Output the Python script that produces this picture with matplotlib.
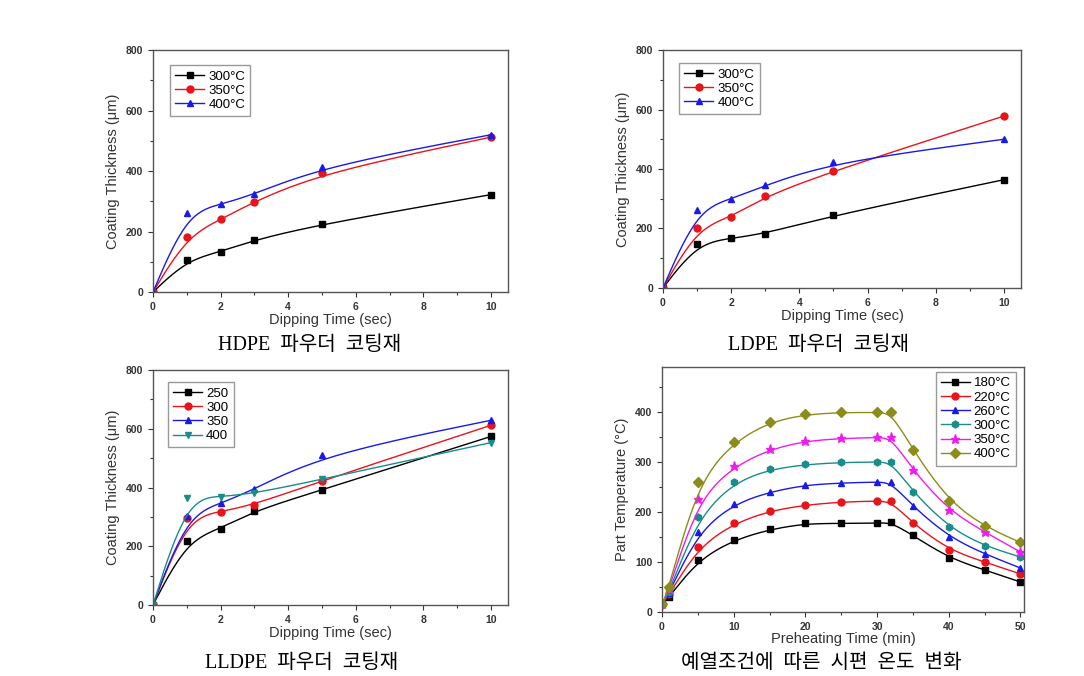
import matplotlib.pyplot as plt
import numpy as np
from matplotlib.ticker import MultipleLocator

plt.rcParams['font.family'] = ['Liberation Sans', 'DejaVu Sans']

# dipping time (sec)
dip_x = [0, 1, 2, 3, 5, 10]

hdpe_labels = ["300°C", "350°C", "400°C"]
hdpe_300 = [0, 105, 133, 172, 225, 322]
hdpe_350 = [0, 183, 240, 299, 394, 512]
hdpe_400 = [0, 260, 290, 323, 414, 520]

ldpe_labels = ["300°C", "350°C", "400°C"]
ldpe_300 = [0, 149, 167, 183, 244, 364]
ldpe_350 = [0, 201, 238, 308, 394, 578]
ldpe_400 = [0, 263, 299, 345, 423, 500]

lldpe_labels = ["250", "300", "350", "400"]
lldpe_250 = [0, 219, 260, 321, 392, 574]
lldpe_300 = [0, 295, 318, 342, 423, 612]
lldpe_350 = [0, 304, 346, 394, 511, 629]
lldpe_400 = [0, 363, 369, 380, 428, 553]

# preheating time (min)
pre_x = [0, 1, 5, 10, 15, 20, 25, 30, 32, 35, 40, 45, 50]
pre_labels = ["180°C", "220°C", "260°C", "300°C", "350°C", "400°C"]
pre_180 = [15, 30, 104, 144, 165, 177, 177, 178, 179, 153, 108, 84, 60]
pre_220 = [15, 35, 129, 177, 202, 214, 220, 222, 221, 177, 124, 100, 76]
pre_260 = [15, 38, 160, 216, 240, 254, 258, 260, 259, 211, 150, 116, 88]
pre_300 = [15, 40, 189, 259, 285, 295, 299, 300, 300, 240, 169, 132, 110]
pre_350 = [15, 45, 225, 291, 325, 342, 347, 349, 349, 283, 203, 160, 120]
pre_400 = [15, 50, 260, 340, 380, 395, 399, 399, 399, 324, 221, 171, 139]

captions = ["HDPE  파우더  코팅재", "LDPE  파우더  코팅재",
            "LLDPE  파우더  코팅재", "예열조건에  따른  시편  온도  변화"]


def bspline(x, y, n=40):
    # clamped uniform cubic B-spline, like Origin's B-spline connect
    P = np.column_stack([x, y]).astype(float)
    P = np.vstack([P[0], P[0], P, P[-1], P[-1]])
    t = np.linspace(0, 1, n)
    b0 = (1 - t) ** 3 / 6
    b1 = (3 * t**3 - 6 * t**2 + 4) / 6
    b2 = (-3 * t**3 + 3 * t**2 + 3 * t + 1) / 6
    b3 = t**3 / 6
    pts = []
    for i in range(len(P) - 3):
        seg = (np.outer(b0, P[i]) + np.outer(b1, P[i + 1])
               + np.outer(b2, P[i + 2]) + np.outer(b3, P[i + 3]))
        pts.append(seg)
    pts = np.vstack(pts)
    return pts[:, 0], pts[:, 1]


def plot_series(ax, x, ys, labels, colors, markers):
    for y, lab, c, m in zip(ys, labels, colors, markers):
        sx, sy = bspline(x, y)
        ax.plot(sx, sy, color=c, lw=1.0)
        ms = 6.5 if m == "*" else 5
        ax.plot(x, y, linestyle="none", marker=m, color=c, ms=ms)
        # legend proxy
        ax.plot([], [], color=c, lw=1.0, marker=m, ms=ms, label=lab)


def style_axes(ax, xmaj, xmin, ymaj, ymin):
    for s in ax.spines.values():
        s.set_color("#555555")
        s.set_linewidth(1.0)
    ax.xaxis.set_major_locator(MultipleLocator(xmaj))
    ax.xaxis.set_minor_locator(MultipleLocator(xmin))
    ax.yaxis.set_major_locator(MultipleLocator(ymaj))
    ax.yaxis.set_minor_locator(MultipleLocator(ymin))
    ax.tick_params(which="major", direction="out", length=3.5, width=0.8,
                   labelsize=7.5, colors="#333333")
    ax.tick_params(which="minor", direction="out", length=2, width=0.8,
                   colors="#333333")
    for lbl in ax.get_xticklabels() + ax.get_yticklabels():
        lbl.set_fontweight("bold")


def legend(ax, loc, anchor):
    leg = ax.legend(loc=loc, bbox_to_anchor=anchor, fontsize=9.5,
                    fancybox=False, edgecolor="#999999", framealpha=1,
                    handlelength=2.2, handletextpad=0.3, labelspacing=0.15,
                    borderpad=0.4, borderaxespad=0)
    leg.get_frame().set_linewidth(1.0)


fig = plt.figure(figsize=(10.84, 6.76), dpi=100)

c3 = ["#000000", "#e8141a", "#1a1ae6"]
m3 = ["s", "o", "^"]

# HDPE
ax1 = fig.add_axes([0.1411, 0.568, 0.3275, 0.358])
plot_series(ax1, dip_x, [hdpe_300, hdpe_350, hdpe_400], hdpe_labels, c3, m3)
ax1.set_xlim(0, 10.5)
ax1.set_ylim(0, 800)
style_axes(ax1, 2, 1, 200, 100)
ax1.set_xlabel("Dipping Time (sec)", fontsize=10.5, labelpad=1, color="#333333")
ax1.set_ylabel("Coating Thickness (μm)", fontsize=10.5, labelpad=4, color="#333333")
legend(ax1, "upper left", (0.048, 0.938))

# LDPE
ax2 = fig.add_axes([0.6116, 0.574, 0.3303, 0.352])
plot_series(ax2, dip_x, [ldpe_300, ldpe_350, ldpe_400], ldpe_labels, c3, m3)
ax2.set_xlim(0, 10.5)
ax2.set_ylim(0, 800)
style_axes(ax2, 2, 1, 200, 100)
ax2.set_xlabel("Dipping Time (sec)", fontsize=10.5, labelpad=1, color="#333333")
ax2.set_ylabel("Coating Thickness (μm)", fontsize=10.5, labelpad=4, color="#333333")
legend(ax2, "upper left", (0.045, 0.945))

# LLDPE
ax3 = fig.add_axes([0.1411, 0.105, 0.3275, 0.3476])
plot_series(ax3, dip_x, [lldpe_250, lldpe_300, lldpe_350, lldpe_400],
            lldpe_labels, c3 + ["#1a8c8c"], m3 + ["v"])
ax3.set_xlim(0, 10.5)
ax3.set_ylim(0, 800)
style_axes(ax3, 2, 1, 200, 100)
ax3.set_xlabel("Dipping Time (sec)", fontsize=10.5, labelpad=1, color="#333333")
ax3.set_ylabel("Coating Thickness (μm)", fontsize=10.5, labelpad=4, color="#333333")
legend(ax3, "upper left", (0.042, 0.949))

# preheating
ax4 = fig.add_axes([0.6107, 0.0947, 0.334, 0.3624])
plot_series(ax4, pre_x, [pre_180, pre_220, pre_260, pre_300, pre_350, pre_400],
            pre_labels,
            c3 + ["#1a8c8c", "#f01af0", "#8c8c1a"],
            m3 + ["h", "*", "D"])
ax4.set_xlim(0, 50.5)
ax4.set_ylim(0, 490)
style_axes(ax4, 10, 5, 100, 50)
ax4.set_xlabel("Preheating Time (min)", fontsize=10.5, labelpad=0, color="#333333")
ax4.set_ylabel("Part Temperature (°C)", fontsize=10.5, labelpad=4, color="#333333")
legend(ax4, "upper right", (0.978, 0.98))

# captions
kfont = ["Liberation Serif", "Noto Sans CJK KR"]
fig.text(310 / 1084, 1 - 345 / 676, captions[0], ha="center", va="center",
         fontsize=14.5, family=kfont)
fig.text(819 / 1084, 1 - 345 / 676, captions[1], ha="center", va="center",
         fontsize=14.5, family=kfont)
fig.text(302 / 1084, 1 - 663 / 676, captions[2], ha="center", va="center",
         fontsize=14.5, family=kfont)
fig.text(821 / 1084, 1 - 663 / 676, captions[3], ha="center", va="center",
         fontsize=14.5, family=kfont)

fig.savefig("out.png", dpi=100)
